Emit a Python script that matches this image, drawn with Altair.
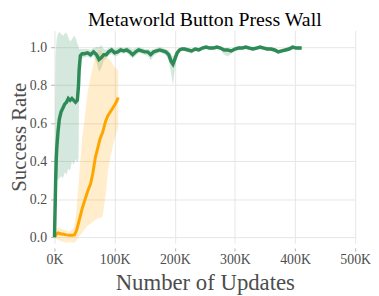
import altair as alt
import pandas as pd

# ---- data (x in thousands of updates) ----
green_x = [0, 1, 2, 3, 4, 6, 8, 11, 14, 17, 20, 23, 26, 29, 32, 35, 38, 40, 41, 43,
           46, 50, 55, 60, 65, 70, 74, 78, 82, 86, 90, 95, 100, 105, 110, 115, 120,
           125, 130, 135, 140, 145, 150, 155, 160, 165, 170, 175, 180, 185, 190, 194,
           197, 200, 204, 208, 212, 216, 222, 228, 234, 240, 246, 252, 258, 264, 270,
           276, 282, 288, 294, 300, 306, 312, 318, 324, 330, 336, 342, 348, 354, 360,
           366, 372, 378, 384, 390, 396, 402, 408, 411]
green_mean = [0.0, 0.15, 0.30, 0.42, 0.48, 0.56, 0.62, 0.66, 0.68, 0.70, 0.71, 0.73, 0.72,
              0.73, 0.72, 0.71, 0.72, 0.80, 0.88, 0.955, 0.965, 0.965, 0.97, 0.96, 0.975,
              0.96, 0.935, 0.945, 0.96, 0.96, 0.975, 0.985, 0.97, 0.975, 0.985, 0.98,
              0.985, 0.975, 0.96, 0.975, 0.985, 0.98, 0.975, 0.975, 0.96, 0.975, 0.98,
              0.985, 0.98, 0.975, 0.96, 0.925, 0.91, 0.935, 0.97, 0.985, 0.99, 0.99,
              0.985, 0.98, 0.99, 0.985, 0.995, 1.0, 0.995, 0.995, 1.0, 0.995, 0.985,
              0.985, 0.98, 0.99, 0.995, 0.995, 1.0, 0.995, 0.99, 0.995, 1.0, 0.995,
              0.99, 0.99, 0.985, 0.975, 0.98, 0.985, 0.99, 1.0, 0.995, 0.995, 0.995]
green_low = [0.0, 0.05, 0.28, 0.30, 0.31, 0.30, 0.31, 0.32, 0.31, 0.34, 0.33, 0.36, 0.35,
             0.40, 0.38, 0.41, 0.39, 0.42, 0.80, 0.93, 0.94, 0.945, 0.95, 0.94, 0.955,
             0.92, 0.87, 0.89, 0.93, 0.94, 0.955, 0.965, 0.95, 0.955, 0.97, 0.965,
             0.97, 0.955, 0.94, 0.955, 0.97, 0.965, 0.96, 0.955, 0.93, 0.955, 0.965,
             0.97, 0.965, 0.96, 0.93, 0.86, 0.80, 0.88, 0.955, 0.975, 0.98, 0.98,
             0.975, 0.965, 0.98, 0.975, 0.985, 0.99, 0.985, 0.985, 0.99, 0.985, 0.96,
             0.95, 0.965, 0.98, 0.985, 0.985, 0.99, 0.985, 0.98, 0.985, 0.99, 0.985,
             0.98, 0.98, 0.975, 0.965, 0.97, 0.975, 0.98, 0.99, 0.985, 0.985, 0.985]
green_high = [0.0, 0.60, 0.95, 1.02, 1.05, 1.07, 1.08, 1.07, 1.06, 1.07, 1.075, 1.05, 1.03,
              1.04, 1.06, 1.05, 1.02, 1.0, 0.99, 0.99, 0.99, 0.99, 0.99, 0.985, 0.995,
              1.0, 1.0, 1.01, 0.99, 0.985, 0.995, 1.0, 0.99, 0.995, 1.0, 0.995,
              1.0, 0.995, 0.99, 0.995, 1.0, 0.995, 0.99, 0.99, 0.985, 0.99, 0.995,
              1.0, 0.995, 0.99, 0.985, 0.96, 0.95, 0.965, 0.985, 0.995, 1.0, 1.0,
              0.995, 0.99, 1.0, 0.995, 1.005, 1.01, 1.005, 1.005, 1.01, 1.005, 0.995,
              0.995, 0.99, 1.0, 1.005, 1.005, 1.01, 1.005, 1.0, 1.005, 1.01, 1.005,
              1.0, 1.0, 0.995, 0.985, 0.99, 0.995, 1.0, 1.01, 1.005, 1.005, 1.005]

orange_x = [0, 3, 6, 10, 15, 20, 25, 30, 33, 36, 38, 42, 46, 50, 55, 60, 64, 68, 72, 76,
            80, 85, 89, 93, 97, 101, 104, 106]
orange_mean = [0.0, 0.015, 0.022, 0.018, 0.015, 0.012, 0.01, 0.01, 0.012, 0.03, 0.05, 0.10,
               0.15, 0.19, 0.24, 0.28, 0.34, 0.42, 0.47, 0.52, 0.55, 0.61, 0.64, 0.66,
               0.68, 0.70, 0.72, 0.735]
orange_low = [0.0, -0.01, -0.015, -0.02, -0.025, -0.03, -0.025, -0.03, -0.03, -0.02, -0.01,
              0.01, 0.02, 0.04, 0.06, 0.07, 0.08, 0.09, 0.10, 0.10, 0.11, 0.22, 0.35, 0.42,
              0.48, 0.53, 0.56, 0.58]
orange_high = [0.0, 0.04, 0.05, 0.045, 0.04, 0.035, 0.03, 0.04, 0.06, 0.12, 0.20, 0.36,
               0.52, 0.62, 0.76, 0.84, 0.90, 0.95, 0.98, 0.99, 0.97, 0.95, 0.94, 0.93,
               0.91, 0.89, 0.885, 0.88]

x_ticks = [0, 100, 200, 300, 400, 500]
y_ticks = [0.0, 0.2, 0.4, 0.6, 0.8, 1.0]

GREEN = "#2e8b57"
ORANGE = "#ffa500"
FONT = "Liberation Serif"

gdf = pd.DataFrame({"x": green_x, "m": green_mean, "lo": green_low, "hi": green_high})
odf = pd.DataFrame({"x": orange_x, "m": orange_mean, "lo": orange_low, "hi": orange_high})

xs = alt.Scale(domain=[0, 500], nice=False, zero=False)
ys = alt.Scale(domain=[-0.031, 1.088], nice=False, zero=False)

x_axis = alt.Axis(values=x_ticks, labelExpr="datum.value + 'K'", title="Number of Updates",
                  offset=5, tickSize=3, labelPadding=2, titlePadding=5, domain=False,
                  labelFlush=False, labelOverlap=False, labelFont=FONT, titleFont=FONT,
                  titleFontSize=23)
y_axis = alt.Axis(values=y_ticks, format=".1f", title="Success Rate",
                  tickSize=4, labelPadding=4, titlePadding=0, domain=False,
                  labelFlush=False, labelOverlap=False, labelFont=FONT, titleFont=FONT,
                  titleFontSize=21)


def band(df, color):
    return alt.Chart(df).mark_area(color=color, opacity=0.2, clip=False).encode(
        x=alt.X("x:Q", scale=xs, axis=x_axis),
        y=alt.Y("lo:Q", scale=ys, axis=y_axis),
        y2="hi:Q",
    )


def line(df, color, w):
    return alt.Chart(df).mark_line(color=color, strokeWidth=w, clip=False).encode(
        x=alt.X("x:Q", scale=xs),
        y=alt.Y("m:Q", scale=ys),
    )


chart = alt.layer(
    band(gdf, GREEN),
    band(odf, ORANGE),
    line(odf, ORANGE, 3),
    line(gdf, GREEN, 3.5),
).properties(
    width=304,
    height=215,
    title=alt.TitleParams("Metaworld Button Press Wall", fontSize=20, font=FONT,
                          color="black", fontWeight="normal", anchor="middle",
                          offset=0),
    autosize=alt.AutoSizeParams(type="none"),
    padding={"left": 47, "top": 21, "right": 16, "bottom": 60},
).configure(font=FONT).configure_view(stroke=None).configure_axis(
    labelFont=FONT, titleFont=FONT, labelFontSize=14,
    titleFontWeight="normal", labelColor="#4d4d4d", titleColor="#4d4d4d",
    gridColor="#e6e6e6", tickColor="#b3b3b3", gridWidth=1,
)

chart.save("out.html", embed_options={"renderer": "svg", "actions": False})
